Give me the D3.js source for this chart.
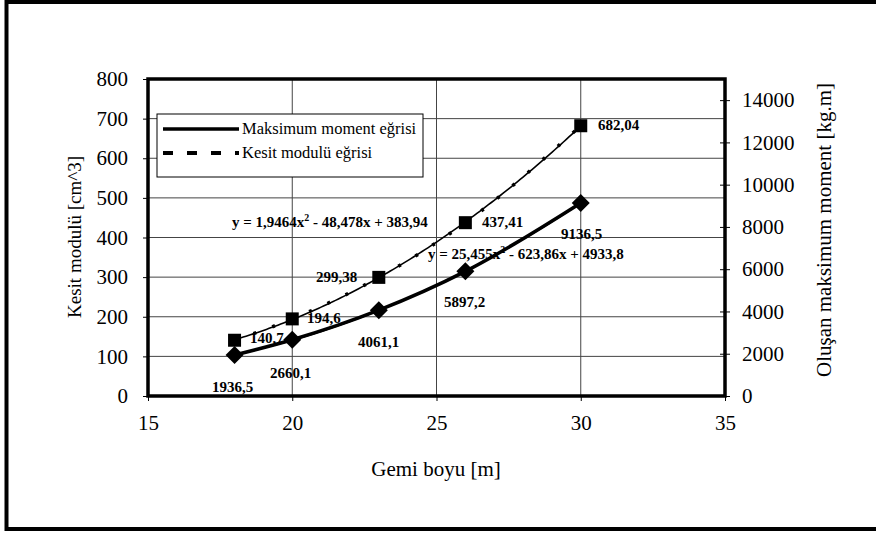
<!DOCTYPE html>
<html>
<head>
<meta charset="utf-8">
<script src="https://cdn.jsdelivr.net/npm/d3@7"></script>
<style>
  html, body { margin: 0; padding: 0; background: #fff; }
  svg { display: block; }
  svg text { font-family: "Liberation Serif", "Times New Roman", "DejaVu Serif", serif !important; fill: #000; }
</style>
</head>
<body>
<svg id="chart" width="876" height="533"></svg>
<script>
// Ship length [m]
const gemiBoyu = [18, 20, 23, 26, 30];
// Section modulus [cm^3] (left axis)
const kesitModulu = [140.7, 194.6, 299.38, 437.41, 682.04];
const kesitLabels = ["140,7", "194,6", "299,38", "437,41", "682,04"];
// Maximum moment [kg.m] (right axis)
const maksMoment = [1936.5, 2660.1, 4061.1, 5897.2, 9136.5];
const momentLabels = ["1936,5", "2660,1", "4061,1", "5897,2", "9136,5"];
// Polynomial trendline coefficients (a, b, c) for y = a x^2 + b x + c
const kesitTrend = [1.9464, -48.478, 383.94];
const momentTrend = [25.455, -623.86, 4933.8];

const xTicks = [15, 20, 25, 30, 35];
const leftTicks = [0, 100, 200, 300, 400, 500, 600, 700, 800];
const rightTicks = [0, 2000, 4000, 6000, 8000, 10000, 12000, 14000];

const FONT = "Liberation Serif";
const svg = d3.select("#chart");

// outer frame
svg.append("rect").attr("x", 6.5).attr("y", 2).attr("width", 900).attr("height", 527)
  .attr("fill", "none").attr("stroke", "#000").attr("stroke-width", 4);

const L = 148, R = 725, T = 79, B = 396;
const x = d3.scaleLinear().domain([15, 35]).range([L, R]);
const yL = d3.scaleLinear().domain([0, 800]).range([B, T]);
const yR = d3.scaleLinear().domain([0, 15000]).range([B, T]);

// gridlines
const grid = svg.append("g");
grid.selectAll("line.h").data(leftTicks.slice(1, -1)).join("line")
  .attr("x1", L).attr("x2", R).attr("y1", d => yL(d)).attr("y2", d => yL(d))
  .attr("stroke", "#444").attr("stroke-width", 1);
grid.selectAll("line.v").data(xTicks.slice(1, -1)).join("line")
  .attr("class", "v")
  .attr("y1", T).attr("y2", B).attr("x1", d => x(d)).attr("x2", d => x(d))
  .attr("stroke", "#444").attr("stroke-width", 1);

// axes
const axL = svg.append("g").attr("transform", `translate(${L},0)`)
  .call(d3.axisLeft(yL).tickValues(leftTicks).tickSize(5).tickPadding(15));
const axR = svg.append("g").attr("transform", `translate(${R},0)`)
  .call(d3.axisRight(yR).tickValues(rightTicks).tickFormat(d3.format("d")).tickSize(5).tickPadding(12));
const axB = svg.append("g").attr("transform", `translate(0,${B})`)
  .call(d3.axisBottom(x).tickValues(xTicks).tickSize(5).tickPadding(14));
[axL, axR, axB].forEach(a => {
  a.attr("font-family", FONT);
  a.select(".domain").remove();
  a.selectAll("text").attr("font-size", 21);
  a.selectAll("line").attr("stroke", "#000");
});
// right axis ticks cross the axis line
axR.selectAll(".tick line").attr("x1", -5).attr("x2", 5);

// plot frame
svg.append("rect").attr("x", L).attr("y", T).attr("width", R - L).attr("height", B - T)
  .attr("fill", "none").attr("stroke", "#000").attr("stroke-width", 3.5);

// trendlines
const xs = d3.range(18, 30.001, 0.1);
const poly = c => v => c[0] * v * v + c[1] * v + c[2];
svg.append("path")
  .attr("d", d3.line().x(v => x(v)).y(v => yL(poly(kesitTrend)(v)))(xs))
  .attr("fill", "none").attr("stroke", "#000").attr("stroke-width", 1.6);
svg.append("path")
  .attr("d", d3.line().x(v => x(v)).y(v => yR(poly(momentTrend)(v)))(xs))
  .attr("fill", "none").attr("stroke", "#000").attr("stroke-width", 1.6);

// series lines
const kesitData = gemiBoyu.map((g, i) => [g, kesitModulu[i]]);
const momentData = gemiBoyu.map((g, i) => [g, maksMoment[i]]);
svg.append("path")
  .attr("d", d3.line().x(d => x(d[0])).y(d => yL(d[1])).curve(d3.curveMonotoneX)(kesitData))
  .attr("fill", "none").attr("stroke", "#000").attr("stroke-width", 3.5)
  .attr("stroke-dasharray", "3,17");
svg.append("path")
  .attr("d", d3.line().x(d => x(d[0])).y(d => yR(d[1])).curve(d3.curveMonotoneX)(momentData))
  .attr("fill", "none").attr("stroke", "#000").attr("stroke-width", 3.5);

// markers
svg.selectAll("rect.sq").data(kesitData).join("rect")
  .attr("class", "sq")
  .attr("x", d => x(d[0]) - 6.5).attr("y", d => yL(d[1]) - 6.5)
  .attr("width", 13).attr("height", 13).attr("fill", "#000");
svg.selectAll("path.dm").data(momentData).join("path")
  .attr("class", "dm")
  .attr("d", d => {
    const cx = x(d[0]), cy = yR(d[1]), r = 9;
    return `M${cx},${cy - r}L${cx + r},${cy}L${cx},${cy + r}L${cx - r},${cy}Z`;
  })
  .attr("fill", "#000");

// data labels
const kesitLabelPos = [[250, 343], [307, 323], [316, 282], [482, 227], [598, 130]];
const momentLabelPos = [[212, 392], [270, 378], [358, 347], [444, 307], [561, 239]];
const lbl = svg.append("g").attr("font-family", FONT);
lbl.selectAll("text.k").data(kesitLabels).join("text").attr("class", "k")
  .attr("x", (d, i) => kesitLabelPos[i][0]).attr("y", (d, i) => kesitLabelPos[i][1])
  .attr("font-weight", "bold").attr("font-size", 15).text(d => d);
lbl.selectAll("text.m").data(momentLabels).join("text").attr("class", "m")
  .attr("x", (d, i) => momentLabelPos[i][0]).attr("y", (d, i) => momentLabelPos[i][1])
  .attr("font-weight", "bold").attr("font-size", 15).text(d => d);

// trendline equations
const eq1 = svg.append("text").attr("x", 232).attr("y", 227).attr("font-family", FONT)
  .attr("font-weight", "bold").attr("font-size", 15);
eq1.append("tspan").text("y = 1,9464x");
eq1.append("tspan").attr("dy", -6).attr("font-size", 10).text("2");
eq1.append("tspan").attr("dy", 6).text(" - 48,478x + 383,94");
const eq2 = svg.append("text").attr("x", 428).attr("y", 259).attr("font-family", FONT)
  .attr("font-weight", "bold").attr("font-size", 15);
eq2.append("tspan").text("y = 25,455x");
eq2.append("tspan").attr("dy", -6).attr("font-size", 10).text("2");
eq2.append("tspan").attr("dy", 6).text(" - 623,86x + 4933,8");

// legend
const lg = svg.append("g").attr("font-family", FONT);
lg.append("rect").attr("x", 157).attr("y", 114).attr("width", 266).attr("height", 63)
  .attr("fill", "#fff").attr("stroke", "#000").attr("stroke-width", 1);
lg.append("line").attr("x1", 163).attr("x2", 239).attr("y1", 129).attr("y2", 129)
  .attr("stroke", "#000").attr("stroke-width", 3.5);
lg.append("line").attr("x1", 163).attr("x2", 239).attr("y1", 153).attr("y2", 153)
  .attr("stroke", "#000").attr("stroke-width", 4).attr("stroke-dasharray", "10,14");
lg.append("text").attr("x", 242).attr("y", 134).attr("font-size", 16.5).text("Maksimum moment eğrisi");
lg.append("text").attr("x", 242).attr("y", 158).attr("font-size", 16.5).text("Kesit modulü eğrisi");

// axis titles
const titles = svg.append("g").attr("font-family", FONT);
titles.append("text").attr("transform", "translate(81,237) rotate(-90)")
  .attr("text-anchor", "middle").attr("font-size", 19).text("Kesit modulü [cm^3]");
titles.append("text").attr("transform", "translate(831,230) rotate(-90)")
  .attr("text-anchor", "middle").attr("font-size", 21).text("Oluşan maksimum moment [kg.m]");
titles.append("text").attr("x", 436).attr("y", 476)
  .attr("text-anchor", "middle").attr("font-size", 21).text("Gemi boyu [m]");
</script>
</body>
</html>
